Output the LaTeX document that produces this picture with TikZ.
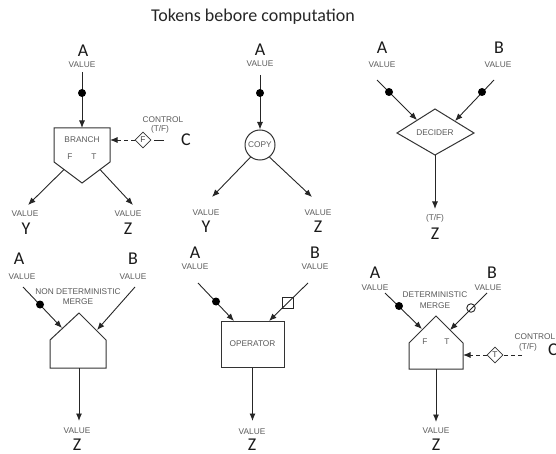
\documentclass[tikz,border=0pt]{standalone}
\usepackage{fontspec}
\setmainfont{Carlito}
\newfontfamily\labfont{Liberation Sans}
\usetikzlibrary{arrows.meta,shapes.geometric}
\begin{document}
\begin{tikzpicture}[x=1pt,y=-1pt,
  big/.style={font=\fontsize{18}{18}\selectfont, inner sep=0pt, text=black!90},
  lab/.style={font=\labfont\fontsize{8.3}{9}\selectfont, text=black!65, inner sep=0pt},
  wire/.style={line width=0.9pt, draw=black!85},
  arr/.style={wire, -{Latex[length=7.5pt,width=6pt]}},
  ctl/.style={dash pattern=on 4pt off 3pt},
  tok/.style={circle, fill=black, inner sep=0pt, minimum size=8pt},
  shp/.style={line width=1pt, draw=black!80},
  ctok/.style={diamond, draw=black!80, line width=0.8pt, fill=white, inner sep=0.5pt, minimum size=16pt, font=\labfont\fontsize{8.3}{9}\selectfont, text=black!75}
]
\useasboundingbox (0,0) rectangle (556,454);
\node[font=\fontsize{18}{18}\selectfont, text=black!85] (title) at (253,17) {Tokens bebore computation};

% ---------------- BRANCH ----------------
\node[big] (bA) at (83,51) {A};
\node[lab] (bAv) at (82,65) {VALUE};
\coordinate (bAs) at (82,72);
\coordinate (bIn) at (82,128);
\draw[shp] (54,128) -- (110,128) -- (110,162) -- (82,183) -- (54,162) -- cycle;
\draw[arr] (bAs) -- (bIn);
\node[tok] (bTok) at (82,93) {};
\node[lab] (bName) at (82,140) {BRANCH};
\node[lab] (bFl) at (70,157) {F};
\node[lab] (bTl) at (94,157) {T};
\node[big] (bC) at (186,140) {C};
\node[lab] (bCtl) at (163,120) {CONTROL};
\node[lab] (bCtf) at (160,129) {(T/F)};
\coordinate (bCs) at (164,140);
\coordinate (bR) at (110,140);
\node[ctok] (bD) at (143,140) {F};
\draw[wire, shorten >=3pt] (bCs) -- (bD.east);
\draw[arr, ctl] (bD.west) -- (bR);
\coordinate (bF) at (64,169.5);
\coordinate (bT) at (100,169.5);
\coordinate (bYe) at (28,205);
\coordinate (bZe) at (133,205);
\draw[arr] (bF) -- (bYe);
\draw[arr] (bT) -- (bZe);
\node[lab] (bYv) at (25,214) {VALUE};
\node[big] (bY) at (26,229) {Y};
\node[lab] (bZv) at (128,214) {VALUE};
\node[big] (bZ) at (128,229) {Z};

% ---------------- COPY ----------------
\node[big] (cA) at (260,50) {A};
\node[lab] (cAv) at (260,64) {VALUE};
\coordinate (cAs) at (260,75);
\node[circle, shp, minimum size=30pt, inner sep=0pt, font=\labfont\fontsize{8.3}{9}\selectfont, text=black!65] (cC) at (260,145) {COPY};
\draw[arr] (cAs) -- (cC.north);
\node[tok] (cTok) at (260,93) {};
\coordinate (cYe) at (212,197);
\coordinate (cZe) at (312,197);
\draw[arr] (cC.-128) -- (cYe);
\draw[arr] (cC.-52) -- (cZe);
\node[lab] (cYv) at (206,213) {VALUE};
\node[big] (cY) at (206,227) {Y};
\node[lab] (cZv) at (318,213) {VALUE};
\node[big] (cZ) at (318,227) {Z};

% ---------------- DECIDER ----------------
\node[big] (dA) at (382,48) {A};
\node[lab] (dAv) at (382,65) {VALUE};
\node[big] (dB) at (499,48) {B};
\node[lab] (dBv) at (498,65) {VALUE};
\coordinate (dAs) at (377,80);
\coordinate (dBs) at (494,80);
\coordinate (dAi) at (417,120);
\coordinate (dBi) at (455,121);
\draw[shp] (397,133) -- (435,109) -- (474,133) -- (435,155) -- cycle;
\node[lab] (dName) at (435,133) {DECIDER};
\draw[arr] (dAs) -- (dAi);
\draw[arr] (dBs) -- (dBi);
\node[tok] (dTa) at (389,92) {};
\node[tok] (dTb) at (482,92) {};
\coordinate (dOut) at (435,155);
\coordinate (dZe) at (435,209);
\draw[arr] (dOut) -- (dZe);
\node[lab] (dTF) at (435,218) {(T/F)};
\node[big] (dZ) at (435,234) {Z};

% ---------------- NON DETERMINISTIC MERGE ----------------
\node[big] (nA) at (19,259) {A};
\node[lab] (nAv) at (22,277) {VALUE};
\node[big] (nB) at (133,259) {B};
\node[lab] (nBv) at (133,277) {VALUE};
\node[lab] (nName1) at (78,292) {NON DETERMINISTIC};
\node[lab] (nName2) at (78,302) {MERGE};
\draw[shp] (79,313) -- (106,340) -- (106,368) -- (50,368) -- (50,340) -- cycle;
\coordinate (nAs) at (23,287);
\coordinate (nBs) at (135,287);
\coordinate (nAi) at (62,328);
\coordinate (nBi) at (97,330);
\draw[arr] (nAs) -- (nAi);
\draw[arr] (nBs) -- (nBi);
\node[tok] (nTa) at (40,304.5) {};
\coordinate (nOut) at (79,368);
\coordinate (nZe) at (79,421);
\draw[arr] (nOut) -- (nZe);
\node[lab] (nZv) at (77,431) {VALUE};
\node[big] (nZ) at (77,444.5) {Z};

% ---------------- OPERATOR ----------------
\node[big] (oA) at (195,253) {A};
\node[lab] (oAv) at (195,267) {VALUE};
\node[big] (oB) at (315,253) {B};
\node[lab] (oBv) at (315,267) {VALUE};
\node[shp, rectangle, minimum width=63pt, minimum height=46pt, inner sep=0pt, font=\labfont\fontsize{8.3}{9}\selectfont, text=black!65] (oR) at (252.5,344) {OPERATOR};
\coordinate (oAs) at (198,283);
\coordinate (oBs) at (308,283);
\coordinate (oAi) at (234,321);
\coordinate (oBi) at (269,321);
\draw[arr] (oAs) -- (oAi);
\draw[arr] (oBs) -- (oBi);
\node[tok] (oTa) at (216,301.5) {};
\node[draw=black!85, line width=0.9pt, minimum size=11pt, inner sep=0pt] (oTb) at (287.5,302.5) {};
\coordinate (oZe) at (252.5,421);
\draw[arr] (oR.south) -- (oZe);
\node[lab] (oZv) at (252,431.5) {VALUE};
\node[big] (oZ) at (252,444.5) {Z};

% ---------------- DETERMINISTIC MERGE ----------------
\node[big] (mA) at (375,273) {A};
\node[lab] (mAv) at (375,288) {VALUE};
\node[big] (mB) at (492,273) {B};
\node[lab] (mBv) at (488,288) {VALUE};
\node[lab] (mName1) at (435,295) {DETERMINISTIC};
\node[lab] (mName2) at (435,306) {MERGE};
\draw[shp] (436,316) -- (463,343) -- (463,369) -- (409,369) -- (409,343) -- cycle;
\node[lab] (mFl) at (425,342) {F};
\node[lab] (mTl) at (447,342) {T};
\coordinate (mAs) at (385,293);
\coordinate (mBs) at (487,293);
\coordinate (mAi) at (422,329);
\coordinate (mBi) at (450,330);
\draw[arr] (mAs) -- (mAi);
\draw[arr] (mBs) -- (mBi);
\node[tok] (mTa) at (399,306) {};
\node[circle, draw=black!85, line width=0.9pt, minimum size=8.5pt, inner sep=0pt] (mTb) at (471,308) {};
\coordinate (mOut) at (436,369);
\coordinate (mZe) at (436,422);
\draw[arr] (mOut) -- (mZe);
\node[lab] (mZv) at (436,431) {VALUE};
\node[big] (mZ) at (436,444.5) {Z};
\node[ctok] (mD) at (495,355) {T};
\coordinate (mCs) at (522,355);
\coordinate (mR) at (463,355);
\draw[wire, ctl] (mCs) -- (mD.east);
\draw[arr, ctl] (mD.west) -- (mR);
\node[lab] (mCtl) at (535,337) {CONTROL};
\node[lab] (mCtf) at (528,347) {(T/F)};
\node[big] (mC) at (553,350) {C};
\end{tikzpicture}
\end{document}
